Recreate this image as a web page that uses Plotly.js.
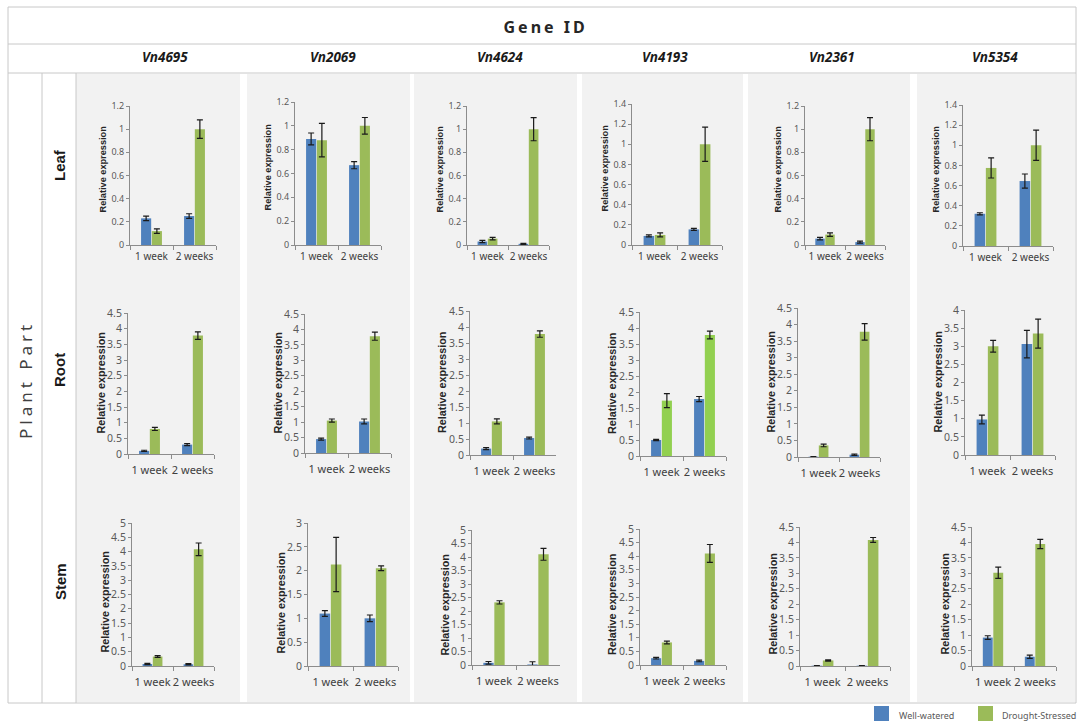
<!DOCTYPE html>
<html>
<head>
<meta charset="utf-8">
<script src="https://cdn.plot.ly/plotly-3.0.1.min.js"></script>
<style>html,body{margin:0;padding:0;background:#fff;}#chart{width:1079px;height:723px;}</style>
</head>
<body>
<div id="chart"></div>
<script>
// ---------------- data ----------------
const genes = ['Vn4695', 'Vn2069', 'Vn4624', 'Vn4193', 'Vn2361', 'Vn5354'];
const parts = ['Leaf', 'Root', 'Stem'];
const timepoints = ['1 week', '2 weeks'];
const seriesNames = ['Well-watered', 'Drought-Stressed'];

// Leaf
const leafWW     = [[0.23, 0.25], [0.89, 0.67], [0.03, 0.01], [0.09, 0.155], [0.055, 0.025], [0.32, 0.645]];
const leafWWErr  = [[0.02, 0.02], [0.05, 0.03], [0.01, 0.005], [0.01, 0.01], [0.01, 0.008], [0.01, 0.07]];
const leafDS     = [[0.12, 1.0], [0.88, 1.0], [0.055, 1.0], [0.10, 1.0], [0.09, 1.0], [0.775, 1.0]];
const leafDSErr  = [[0.02, 0.08], [0.14, 0.07], [0.01, 0.1], [0.02, 0.17], [0.015, 0.1], [0.1, 0.15]];
// Root
const rootWW     = [[0.1, 0.3], [0.45, 1.02], [0.2, 0.53], [0.5, 1.78], [0.01, 0.07], [0.98, 3.06]];
const rootWWErr  = [[0.02, 0.03], [0.03, 0.08], [0.03, 0.03], [0.02, 0.08], [0.005, 0.02], [0.12, 0.38]];
const rootDS     = [[0.8, 3.78], [1.05, 3.78], [1.05, 3.78], [1.73, 3.78], [0.35, 3.78], [3.0, 3.35]];
const rootDSErr  = [[0.05, 0.12], [0.05, 0.13], [0.08, 0.1], [0.22, 0.12], [0.04, 0.25], [0.16, 0.4]];
// Stem
const stemWW     = [[0.07, 0.06], [1.1, 1.0], [0.08, 0.02], [0.25, 0.15], [0.01, 0.01], [0.92, 0.3]];
const stemWWErr  = [[0.02, 0.02], [0.06, 0.07], [0.05, 0.1], [0.03, 0.03], [0.005, 0.005], [0.06, 0.05]];
const stemDS     = [[0.33, 4.08], [2.13, 2.05], [2.32, 4.1], [0.83, 4.1], [0.18, 4.08], [3.02, 3.95]];
const stemDSErr  = [[0.03, 0.22], [0.57, 0.05], [0.06, 0.22], [0.05, 0.33], [0.02, 0.08], [0.18, 0.15]];

// axis maxima
const leafYMax = [1.2, 1.2, 1.2, 1.4, 1.2, 1.4];
const rootYMax = [4.5, 4.5, 4.5, 4.5, 4.5, 4];
const stemYMax = [5, 3, 5, 5, 4.5, 4.5];
const rowDtick = [0.2, 0.5, 0.5];

const rowData = [
  {ww: leafWW, wwErr: leafWWErr, ds: leafDS, dsErr: leafDSErr, ymax: leafYMax},
  {ww: rootWW, wwErr: rootWWErr, ds: rootDS, dsErr: rootDSErr, ymax: rootYMax},
  {ww: stemWW, wwErr: stemWWErr, ds: stemDS, dsErr: stemDSErr, ymax: stemYMax}
];

// ---------------- layout geometry (pixels) ----------------
const W = 1079, H = 723;
// [left, midTick, bottom(0), top(max)] per subplot
const geom = [
  [[130,173,245,106],[295,338,245,102],[467,508,245,106],[632,677,245,104],[805,845,245,106],[963,1008,246,105]],
  [[128,171,454,313],[305,348,453,314],[470,513,455,311],[640,683,456,312],[798,839,457,308],[965,1010,455,310]],
  [[132,173,666,523],[308,353,666,523],[472,516,665,530],[640,683,665,529],[800,845,666,527],[972,1014,666,527]]
];
const panelX = [[76,240],[247,410],[414,577],[582,743],[748,910],[917,1075]];
const geneLabelX = [165, 333, 500, 665, 832, 995];
const rowLabelY = [165, 370, 582];

const blue = '#4F81BD', green = '#9BBB59', brightGreen = '#92D050';
const axisCol = '#8C8C8C';
const fx = x => x / W, fy = y => 1 - y / H;

const traces = [];
const layout = {
  width: W, height: H,
  margin: {l: 0, r: 0, t: 0, b: 0},
  paper_bgcolor: '#ffffff',
  plot_bgcolor: 'rgba(0,0,0,0)',
  barmode: 'group',
  bargap: 0.5,
  bargroupgap: 0.06,
  showlegend: false,
  font: {family: 'Noto Sans, Open Sans, sans-serif', color: '#404040'},
  shapes: [],
  annotations: []
};

function note(text, x, y, font, extra) {
  layout.annotations.push(Object.assign({text: text, xref: 'paper', yref: 'paper', x: fx(x), y: fy(y),
    xanchor: 'center', yanchor: 'middle', showarrow: false, font: font}, extra || {}));
}

// background panels
panelX.forEach(p => {
  layout.shapes.push({type: 'rect', xref: 'paper', yref: 'paper', layer: 'below',
    x0: fx(p[0]), x1: fx(p[1]), y0: fy(702), y1: fy(74),
    fillcolor: '#F2F2F2', line: {width: 0}});
});
// table lines
const lineStyle = {color: '#C8C8C8', width: 1};
layout.shapes.push({type: 'rect', xref: 'paper', yref: 'paper', layer: 'below',
  x0: fx(8), x1: fx(1076), y0: fy(703), y1: fy(7), line: lineStyle, fillcolor: 'rgba(0,0,0,0)'});
[44, 73].forEach(y => layout.shapes.push({type: 'line', xref: 'paper', yref: 'paper', layer: 'below',
  x0: fx(8), x1: fx(1076), y0: fy(y), y1: fy(y), line: lineStyle}));
[42, 76].forEach(x => layout.shapes.push({type: 'line', xref: 'paper', yref: 'paper', layer: 'below',
  x0: fx(x), x1: fx(x), y0: fy(73), y1: fy(703), line: lineStyle}));

// header texts
note('<b>Gene ID</b>', 545, 27, {size: 16, color: '#262626', family: 'Noto Sans, sans-serif'});
genes.forEach((g, i) => note('<b><i>' + g + '</i></b>', geneLabelX[i], 57,
  {size: 13.5, color: '#1a1a1a', family: 'Noto Sans, sans-serif'}));
note('Plant Part', 25, 380, {size: 17, color: '#404040', family: 'Noto Sans, sans-serif'}, {textangle: -90});
parts.forEach((p, r) => note('<b>' + p + '</b>', 60, rowLabelY[r],
  {size: 15, color: '#1a1a1a', family: 'Liberation Sans, Arial, sans-serif'}, {textangle: -90}));

// legend (custom, bottom right)
layout.shapes.push({type: 'rect', xref: 'paper', yref: 'paper', x0: fx(874), x1: fx(889), y0: fy(721), y1: fy(706),
  fillcolor: blue, line: {width: 0}});
layout.shapes.push({type: 'rect', xref: 'paper', yref: 'paper', x0: fx(978), x1: fx(993), y0: fy(721), y1: fy(706),
  fillcolor: green, line: {width: 0}});
note(seriesNames[0], 897, 715, {size: 9, color: '#595959'}, {xanchor: 'left'});
note(seriesNames[1], 1000, 715, {size: 9, color: '#595959'}, {xanchor: 'left'});

// subplots
let idx = 0;
for (let r = 0; r < 3; r++) {
  for (let c = 0; c < 6; c++) {
    idx++;
    const g = geom[r][c];
    const L = g[0], R = g[0] + 2 * (g[1] - g[0]), B = g[2], T = g[3];
    const xa = 'x' + idx, ya = 'y' + idx;
    const xk = 'xaxis' + idx, yk = 'yaxis' + idx;
    const d = rowData[r];
    const dsColor = (r === 1 && c === 3) ? brightGreen : green;
    const errStyle = {type: 'data', visible: true, color: '#1a1a1a', thickness: 1.2, width: 3};
    traces.push({type: 'bar', x: timepoints, y: d.ww[c], name: seriesNames[0], xaxis: xa, yaxis: ya,
      marker: {color: blue, line: {width: 0}}, error_y: Object.assign({array: d.wwErr[c]}, errStyle), hoverinfo: 'y'});
    traces.push({type: 'bar', x: timepoints, y: d.ds[c], name: seriesNames[1], xaxis: xa, yaxis: ya,
      marker: {color: dsColor, line: {width: 0}}, error_y: Object.assign({array: d.dsErr[c]}, errStyle), hoverinfo: 'y'});
    const tickSz = r === 0 ? 9 : 10.5;
    layout[xk] = {domain: [fx(L), fx(R)], anchor: ya, type: 'category', showline: true, linecolor: axisCol,
      linewidth: 1, ticks: 'outside', tickson: 'boundaries', ticklen: 4, tickcolor: axisCol, showgrid: false,
      zeroline: false, fixedrange: true, tickangle: 0, tickfont: {size: r === 0 ? 10 : 11, color: '#404040'},
      ticklabelstandoff: r === 0 ? 2 : 6};
    layout[yk] = {domain: [fy(B), fy(T)], anchor: xa, range: [0, d.ymax[c]], dtick: rowDtick[r], tick0: 0,
      showline: true, linecolor: axisCol, linewidth: 1, ticks: 'outside', ticklen: 3, tickcolor: axisCol,
      showgrid: false, zeroline: false, fixedrange: true, tickfont: {size: tickSz, color: '#595959'}};
    const midY = r === 0 ? (B + T) / 2 - 6 : (r === 2 ? (B + T) / 2 + 8 : (B + T) / 2);
    note('<b>Relative expression</b>', L - 28, midY,
      {size: r === 0 ? 9.2 : 10.8, color: '#262626', family: 'Liberation Sans, Arial, sans-serif'}, {textangle: -90});
  }
}

Plotly.newPlot('chart', traces, layout, {displayModeBar: false, staticPlot: true}).then(() => {
  document.querySelectorAll('.annotation-text').forEach(t => {
    const s = t.textContent;
    if (s === 'Gene ID') t.style.letterSpacing = '3px';
    if (s === 'Plant Part') t.style.letterSpacing = '4px';
  });
});
</script>
</body>
</html>
